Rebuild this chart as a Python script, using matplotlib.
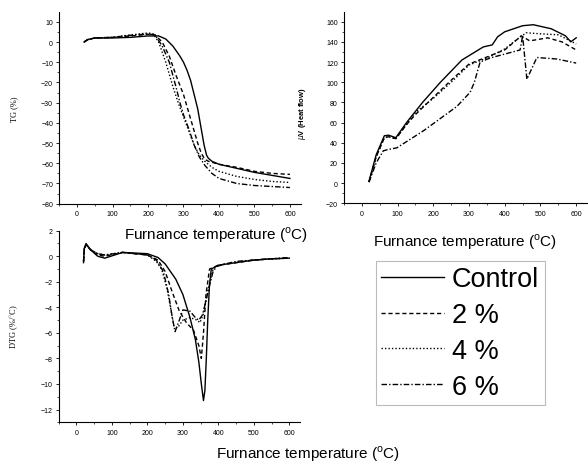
import matplotlib
matplotlib.use('Agg')
import matplotlib.pyplot as plt
import numpy as np

plt.rcParams['font.family'] = 'Liberation Sans'
plt.rcParams['mathtext.fontset'] = 'custom'
plt.rcParams['mathtext.rm'] = 'Liberation Sans'

# TG (%) vs temperature
tg_t_ctrl = [20, 30, 50, 100, 150, 200, 230, 250, 270, 290, 300, 310, 320, 330, 340, 350, 358, 365, 370, 380, 400, 450, 500, 550, 600]
tg_ctrl = [0, 1.2, 2, 2, 2.3, 3, 3, 1.5, -2, -7, -10, -14, -19, -26, -33, -43, -51, -56, -57.5, -59, -60.5, -62.5, -64.5, -66, -67.5]
tg_t_2 = [20, 30, 50, 100, 150, 200, 220, 240, 260, 280, 300, 310, 320, 330, 340, 350, 360, 370, 400, 450, 500, 550, 600]
tg_2 = [0, 1.2, 2, 2.3, 3, 3.8, 3.5, 0, -7, -17, -26, -32, -38, -44, -50, -55, -58, -59, -60.5, -62, -64, -65, -65.5]
tg_t_4 = [20, 30, 50, 100, 150, 200, 215, 230, 250, 270, 285, 300, 315, 330, 345, 360, 380, 400, 450, 500, 550, 600]
tg_4 = [0, 1.2, 2, 2.3, 3.5, 4.5, 4, 0, -10, -22, -30, -37, -44, -51, -56, -59, -62, -64, -66.5, -68, -69, -69.5]
tg_t_6 = [20, 30, 50, 100, 150, 200, 220, 240, 260, 280, 290, 300, 315, 330, 345, 360, 380, 400, 450, 500, 550, 600]
tg_6 = [0, 1.2, 2, 2.3, 3.3, 4, 3.5, -2, -10, -23, -30, -36, -43, -51, -57, -61, -65, -67.5, -70, -71, -71.5, -72]

# heat flow (uV) vs temperature
hf_t_ctrl = [20, 40, 63, 75, 95, 125, 170, 220, 280, 340, 365, 380, 400, 450, 480, 530, 570, 585, 600]
hf_ctrl = [2, 28, 47, 47.5, 45, 60, 80, 100, 122, 135, 137, 145, 150, 156, 157, 153, 146, 140, 144]
hf_t_2 = [20, 40, 63, 75, 95, 125, 150, 200, 250, 300, 350, 400, 440, 446, 470, 520, 560, 600]
hf_2 = [1, 26, 45, 46, 44, 58, 68, 85, 102, 118, 125, 132, 144, 146, 141, 144, 140, 132]
hf_t_4 = [20, 40, 63, 75, 95, 125, 150, 200, 250, 300, 350, 400, 440, 460, 500, 550, 600]
hf_4 = [1, 26, 45, 46, 44, 58, 70, 84, 100, 117, 124, 133, 144, 149, 148, 147, 138]
hf_t_6 = [20, 40, 60, 70, 98, 173, 266, 303, 315, 331, 359, 443, 450, 462, 490, 546, 600]
hf_6 = [1, 20, 32, 33, 35, 52, 76, 90, 100, 120, 124, 132, 146, 103, 124.5, 123, 119]

# DTG (%/C) vs temperature
dtg_t_ctrl = [20, 22, 27, 40, 60, 80, 130, 200, 230, 250, 280, 300, 320, 335, 345, 352, 358, 362, 366, 370, 375, 380, 400, 450, 500, 550, 600]
dtg_ctrl = [-0.5, 0.6, 1.0, 0.5, 0.0, -0.15, 0.3, 0.2, -0.1, -0.6, -1.8, -3.0, -4.8, -6.5, -8.3, -10, -11.3, -10.5, -8, -5, -2.2, -1.0, -0.7, -0.5, -0.3, -0.2, -0.15]
dtg_t_2 = [20, 22, 27, 40, 60, 80, 130, 200, 230, 250, 270, 290, 310, 330, 345, 352, 358, 365, 375, 400, 450, 500, 550, 600]
dtg_2 = [-0.4, 0.6, 0.9, 0.5, 0.1, 0.0, 0.3, 0.1, -0.3, -1.2, -2.8, -4.3, -5.2, -5.8, -7.0, -8.0, -6.0, -3.0, -1.0, -0.7, -0.5, -0.3, -0.2, -0.15]
dtg_t_4 = [20, 22, 27, 40, 60, 80, 130, 200, 225, 240, 255, 265, 275, 285, 300, 320, 340, 348, 358, 368, 385, 400, 450, 500, 550, 600]
dtg_4 = [-0.4, 0.6, 0.9, 0.5, 0.2, 0.1, 0.3, 0.1, -0.4, -1.0, -2.5, -4.0, -5.5, -5.6, -5.0, -4.8, -5.0, -5.2, -4.5, -3.0, -1.0, -0.7, -0.5, -0.3, -0.2, -0.15]
dtg_t_6 = [20, 22, 27, 40, 60, 80, 130, 200, 225, 245, 260, 270, 278, 290, 300, 320, 335, 345, 355, 365, 375, 385, 395, 420, 450, 500, 550, 600]
dtg_6 = [-0.4, 0.6, 0.9, 0.5, 0.2, 0.1, 0.3, 0.1, -0.3, -1.2, -3.0, -4.8, -5.9, -5.0, -4.2, -4.3, -4.8, -5.0, -4.6, -3.5, -2.3, -1.2, -0.8, -0.6, -0.4, -0.3, -0.2, -0.1]

labels = ['Control', '2 %', '4 %', '6 %']
styles = ['-', (0, (3, 2)), (0, (1, 1.5)), (0, (4, 1.5, 1, 1.5))]

W, H = 588, 464
fig = plt.figure(figsize=(W / 100, H / 100), dpi=100)

ax1 = fig.add_axes([59.3 / W, 1 - 204.7 / H, 241.3 / W, 192.0 / H])
ax2 = fig.add_axes([344.0 / W, 1 - 204.3 / H, 242.9 / W, 191.7 / H])
ax3 = fig.add_axes([58.7 / W, 1 - 423.3 / H, 241.3 / W, 191.6 / H])

for ax in (ax1, ax2, ax3):
    ax.spines['top'].set_visible(False)
    ax.spines['right'].set_visible(False)
    ax.spines['left'].set_linewidth(0.8)
    ax.spines['bottom'].set_linewidth(0.8)
    ax.set_xlim(-50, 630)
    ax.set_xticks(np.arange(0, 601, 100))
    ax.set_xticks(np.arange(-50, 601, 50), minor=True)
    ax.tick_params(which='major', direction='out', length=2.5, width=0.6, labelsize=5, pad=2)
    ax.tick_params(which='minor', direction='out', length=1.5, width=0.5)

lines = []
for t, v, ls in zip([tg_t_ctrl, tg_t_2, tg_t_4, tg_t_6], [tg_ctrl, tg_2, tg_4, tg_6], styles):
    ax1.plot(t, v, color='black', lw=1.0, linestyle=ls)
ax1.set_ylim(-80, 15)
ax1.set_yticks(np.arange(-80, 11, 10))
ax1.set_yticks(np.arange(-80, 11, 5), minor=True)

for t, v, ls in zip([hf_t_ctrl, hf_t_2, hf_t_4, hf_t_6], [hf_ctrl, hf_2, hf_4, hf_6], styles):
    ax2.plot(t, v, color='black', lw=1.0, linestyle=ls)
ax2.set_ylim(-20, 170)
ax2.set_yticks(np.arange(-20, 161, 20))
ax2.set_yticks(np.arange(-20, 161, 10), minor=True)

for t, v, ls, lab in zip([dtg_t_ctrl, dtg_t_2, dtg_t_4, dtg_t_6], [dtg_ctrl, dtg_2, dtg_4, dtg_6], styles, labels):
    l, = ax3.plot(t, v, color='black', lw=1.0, linestyle=ls, label=lab)
    lines.append(l)
ax3.set_ylim(-13, 2)
ax3.set_yticks(np.arange(-12, 3, 2))
ax3.set_yticks(np.arange(-13, 2.1, 1), minor=True)

# axis labels
xl = r'Furnance temperature ($^{\mathrm{o}}$C)'
fig.text(216 / W, 1 - 235 / H, xl, ha='center', va='center', fontsize=11)
fig.text(465 / W, 1 - 242 / H, xl, ha='center', va='center', fontsize=11)
fig.text(308 / W, 1 - 454 / H, xl, ha='center', va='center', fontsize=11)

fig.text(14 / W, 1 - 109 / H, 'TG (%)', rotation=90, ha='center', va='center',
         fontsize=6, family='Liberation Serif')
fig.text(302 / W, 1 - 114 / H, r'$\mu$V (Heat flow)', rotation=90, ha='center', va='center',
         fontsize=5.5, fontweight='bold')
fig.text(14 / W, 1 - 327 / H, 'DTG (%/$^{\circ}$C)', rotation=90, ha='center', va='center',
         fontsize=6, family='Liberation Serif')

leg = fig.legend(handles=lines, labels=labels, loc='upper left',
                 bbox_to_anchor=(376 / W, 1 - 262 / H), fontsize=19.5,
                 handlelength=2.3, handletextpad=0.3, labelspacing=0.36,
                 borderpad=0.2, borderaxespad=0, frameon=True, fancybox=False)
leg.get_frame().set_edgecolor('#aaaaaa')
leg.get_frame().set_linewidth(0.8)

fig.savefig('out.png', dpi=100)
